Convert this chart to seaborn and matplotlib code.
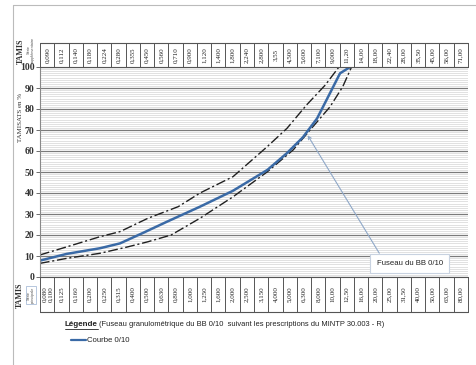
import matplotlib
matplotlib.use("Agg")
import matplotlib.pyplot as plt
import seaborn as sns
import pandas as pd
import numpy as np

# Sieve series printed in the two tables (mm)
top_sieves = ["0,090", "0,112", "0,140", "0,180", "0,224", "0,280", "0,355", "0,450",
              "0,560", "0,710", "0,900", "1,120", "1,400", "1,800", "2,240", "2,800",
              "3,55", "4,500", "5,600", "7,100", "9,000", "11,20", "14,00", "18,00",
              "22,40", "28,00", "35,50", "45,00", "56,00", "71,00"]
bottom_sieves = ["0,100", "0,125", "0,160", "0,200", "0,250", "0,315", "0,400", "0,500",
                 "0,630", "0,800", "1,000", "1,250", "1,600", "2,000", "2,500", "3,150",
                 "4,000", "5,000", "6,300", "8,000", "10,00", "12,50", "16,00", "20,00",
                 "25,00", "31,50", "40,00", "50,00", "63,00", "80,00"]

# Grading curve 0/10 : sieve size (mm) and passing (%)
curve_d = [0.089, 0.137, 0.235, 0.324, 0.47, 0.69, 1.18, 2.0, 3.5, 4.8, 6.2, 7.8, 9.6, 11.3, 13.3]
curve_p = [7.8, 11.0, 13.7, 16.0, 21.0, 26.3, 33.5, 41.0, 51.0, 59.0, 66.5, 75.5, 87.5, 97.0, 100.0]

# Specification envelope (fuseau) of BB 0/10
upper_d = [0.089, 0.138, 0.235, 0.324, 0.51, 0.83, 1.18, 2.01, 3.48, 4.8, 6.6, 8.9, 11.1]
upper_p = [10.5, 14.4, 19.2, 21.6, 28.0, 33.5, 40.0, 47.8, 62.0, 70.8, 82.0, 91.4, 100.0]
lower_d = [0.089, 0.138, 0.235, 0.37, 0.51, 0.74, 1.18, 2.01, 3.48, 5.3, 7.3, 9.6, 11.8, 13.6]
lower_p = [6.5, 8.9, 11.3, 14.4, 16.8, 20.0, 28.0, 38.2, 50.0, 60.5, 71.6, 81.0, 90.6, 100.0]

sns.set_theme(style="white")
plt.rcParams["font.family"] = ["Liberation Sans", "DejaVu Sans"]

W, H = 477, 365
fig = plt.figure(figsize=(W / 100, H / 100), dpi=100)

def fx(px):
    return px / W

def fy(py):
    return 1 - py / H

L, R, T, B = 40, 468, 67, 277
ax = fig.add_axes([fx(L), fy(B), fx(R) - fx(L), fy(T) - fy(B)])

curve = pd.DataFrame({"d": curve_d, "p": curve_p})
upper = pd.DataFrame({"d": upper_d, "p": upper_p})
lower = pd.DataFrame({"d": lower_d, "p": lower_p})

ax.set_xscale("log")
sns.lineplot(data=upper, x="d", y="p", ax=ax, color="#202020", lw=1.0,
             linestyle=(0, (7, 2, 1.5, 2)), sort=False)
sns.lineplot(data=lower, x="d", y="p", ax=ax, color="#202020", lw=1.0,
             linestyle=(0, (7, 2, 1.5, 2)), sort=False)
sns.lineplot(data=curve, x="d", y="p", ax=ax, color="#3a6aa6", lw=1.8, sort=False)

ax.set_xlim(10 ** -1.05, 10 ** 1.95)
ax.set_ylim(0, 100)
ax.set_yticks(np.arange(0, 101, 10))
ax.set_yticks(np.arange(0, 101, 1), minor=True)
ax.set_yticklabels([str(v) for v in range(0, 101, 10)],
                   fontfamily="Liberation Serif", fontsize=7, fontweight="bold", color="#333333")
ax.set_xticks([])
ax.set_xticks([], minor=True)
ax.grid(which="minor", axis="y", color="#d4d4d4", lw=0.5)
ax.grid(which="major", axis="y", color="#7a7a7a", lw=0.9)
ax.set_axisbelow(True)
ax.set_xlabel("")
ax.set_ylabel("")
for s in ["top", "right", "bottom"]:
    ax.spines[s].set_visible(False)
ax.spines["left"].set_color("#888888")
ax.spines["left"].set_linewidth(0.8)
ax.tick_params(axis="y", which="major", left=True, length=3, width=0.6, color="#555555", pad=1)
ax.tick_params(axis="y", which="minor", left=False)

# Callout for the envelope
ax.annotate("Fuseau du BB 0/10", xy=(6.7, 67.5), xytext=(10 ** 1.31, 6.5),
            fontsize=5.6, color="#222222", ha="left", va="center",
            bbox=dict(boxstyle="square,pad=0.8", fc="white", ec="#c8d2e0", lw=0.8),
            arrowprops=dict(arrowstyle="->", color="#8fa8c8", lw=0.8,
                            shrinkA=0, shrinkB=0, relpos=(0.1, 1.0)))

def sieve_table(top_px, bot_px, labels, first_extra=None):
    tax = fig.add_axes([fx(L), fy(bot_px), fx(R) - fx(L), fy(top_px) - fy(bot_px)])
    n = len(labels)
    tax.set_xlim(0, n)
    tax.set_ylim(0, 1)
    tax.axis("off")
    for i in range(n + 1):
        tax.plot([i, i], [0, 1], color="#555555", lw=0.7, clip_on=False)
    tax.plot([0, n], [0, 0], color="#555555", lw=0.8, clip_on=False)
    tax.plot([0, n], [1, 1], color="#555555", lw=0.8, clip_on=False)
    for i, lab in enumerate(labels):
        xc = i + 0.5
        if i == 0 and first_extra:
            tax.text(i + 0.3, 0.5, first_extra, rotation=90, ha="center", va="center",
                     fontsize=5.0, fontfamily="Liberation Serif", color="#222222")
            xc = i + 0.72
        tax.text(xc, 0.5, lab, rotation=90, ha="center", va="center",
                 fontsize=5.0, fontfamily="Liberation Serif", color="#222222")
    return tax

sieve_table(43, T, top_sieves)
sieve_table(B, 312, bottom_sieves, first_extra="0,080")

# Side captions
fig.text(fx(21), fy(51), "TAMIS", rotation=90, ha="center", va="center",
         fontsize=5.8, fontfamily="Liberation Serif", fontweight="bold", color="#333333")
fig.text(fx(31), fy(50), "Série\nsupplémentaire", rotation=90, ha="center", va="center",
         fontsize=2.8, color="#555555", linespacing=1.0)
fig.text(fx(20), fy(117), "TAMISATS en %", rotation=90, ha="center", va="center",
         fontsize=5.0, fontfamily="Liberation Serif", color="#333333")
fig.text(fx(20), fy(295), "TAMIS", rotation=90, ha="center", va="center",
         fontsize=5.8, fontfamily="Liberation Serif", fontweight="bold", color="#333333")
fig.text(fx(31), fy(295), "Série\nprincipale", rotation=90, ha="center", va="center",
         fontsize=2.8, color="#555555", linespacing=1.0,
         bbox=dict(boxstyle="square,pad=0.2", fc="none", ec="#9ab0d0", lw=0.5))

# Legend block
leg = fig.text(fx(65), fy(325), "Légende", ha="left", va="center", fontsize=5.8,
               fontweight="bold", color="#222222")
fig.canvas.draw()
bb = leg.get_window_extent()
fig.add_artist(plt.Line2D([bb.x0 / W, bb.x1 / W], [(bb.y0 - 0.5) / H, (bb.y0 - 0.5) / H],
                          color="#222222", lw=0.6))
fig.text(bb.x1 / W + 0.003, fy(325),
         "(Fuseau granulométrique du BB 0/10  suivant les prescriptions du MINTP 30.003 - R)",
         ha="left", va="center", fontsize=5.4, color="#222222")
fig.add_artist(plt.Line2D([fx(71), fx(86)], [fy(340), fy(340)], color="#3a6aa6", lw=1.6))
fig.text(fx(87), fy(340), "Courbe 0/10", ha="left", va="center", fontsize=5.6, color="#222222")

# Page frame lines
fig.add_artist(plt.Line2D([fx(13), 1], [fy(5), fy(5)], color="#bbbbbb", lw=0.8))
fig.add_artist(plt.Line2D([fx(13), fx(13)], [fy(5), 0], color="#bbbbbb", lw=0.8))

fig.savefig("out.png", dpi=100)
